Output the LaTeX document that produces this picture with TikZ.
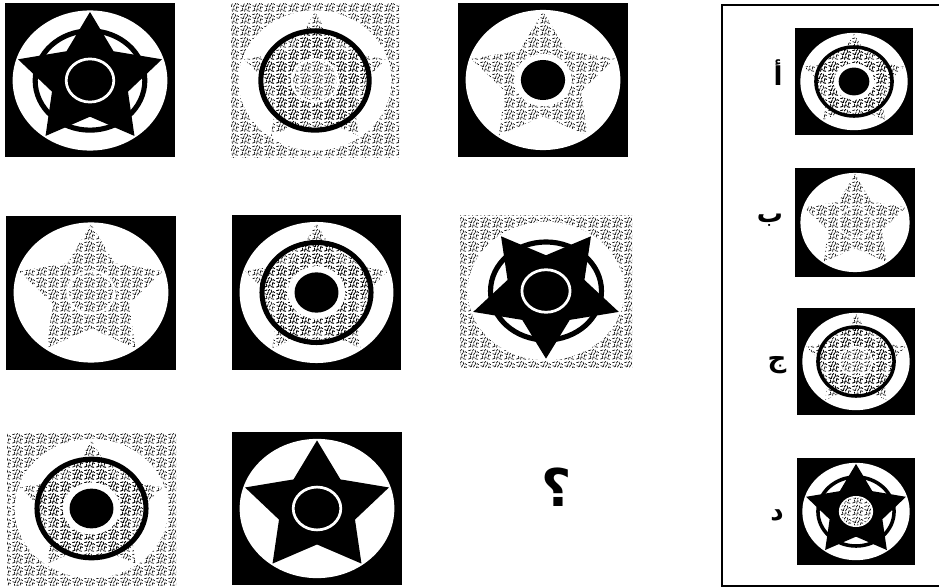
\documentclass[tikz,border=0pt]{standalone}
\usepackage{fontspec}
\newfontfamily\arabicfont[Script=Arabic]{DejaVu Sans}
\TeXXeTstate=1
\usetikzlibrary{patterns}

% scanned scribble texture
\pgfdeclarepatternformonly{scribble}{\pgfpointorigin}{\pgfqpoint{12pt}{12pt}}{\pgfqpoint{12pt}{12pt}}{%
  \pgfsetlinewidth{0.7pt}\pgfsetroundcap\pgfsetroundjoin
  \pgfpathmoveto{\pgfqpoint{0.6pt}{1.0pt}}\pgfpathlineto{\pgfqpoint{3.2pt}{1.9pt}}\pgfpathlineto{\pgfqpoint{2.5pt}{4.3pt}}
  \pgfpathmoveto{\pgfqpoint{5.0pt}{0.6pt}}\pgfpathlineto{\pgfqpoint{5.5pt}{3.4pt}}\pgfpathlineto{\pgfqpoint{7.0pt}{3.0pt}}
  \pgfpathmoveto{\pgfqpoint{7.6pt}{1.4pt}}\pgfpathlineto{\pgfqpoint{10.6pt}{0.8pt}}
  \pgfpathmoveto{\pgfqpoint{8.8pt}{3.0pt}}\pgfpathlineto{\pgfqpoint{9.4pt}{5.6pt}}\pgfpathlineto{\pgfqpoint{11.5pt}{5.0pt}}
  \pgfpathmoveto{\pgfqpoint{0.8pt}{6.8pt}}\pgfpathlineto{\pgfqpoint{3.6pt}{5.8pt}}\pgfpathlineto{\pgfqpoint{4.4pt}{8.4pt}}
  \pgfpathmoveto{\pgfqpoint{5.8pt}{5.2pt}}\pgfpathlineto{\pgfqpoint{7.2pt}{7.6pt}}
  \pgfpathmoveto{\pgfqpoint{8.6pt}{7.8pt}}\pgfpathlineto{\pgfqpoint{7.6pt}{10.8pt}}
  \pgfpathmoveto{\pgfqpoint{0.6pt}{10.0pt}}\pgfpathlineto{\pgfqpoint{3.2pt}{10.8pt}}
  \pgfpathmoveto{\pgfqpoint{4.6pt}{9.6pt}}\pgfpathlineto{\pgfqpoint{6.0pt}{11.4pt}}
  \pgfpathmoveto{\pgfqpoint{9.8pt}{9.0pt}}\pgfpathlineto{\pgfqpoint{11.6pt}{8.0pt}}
  \pgfusepath{stroke}}

\tikzset{
  inkfill/.style={fill=black},
  texfill/.style={pattern=scribble, pattern color=black},
  bare/.style={},
  band/.style={draw=black, line width=\rw},
  texband/.style={band, texfill},
  optlabel/.style={font=\arabicfont\bfseries\fontsize{26}{28}\selectfont, inner sep=0pt},
  qmark/.style={font=\arabicfont\bfseries\fontsize{52}{56}\selectfont, inner sep=0pt}
}

% centre pieces
\newcommand{\hubring}{%
  \fill[black] (0,0) circle (0.28);
  \draw[white, line width=\hw] (0,0) circle (0.28);}
\newcommand{\hubdisc}{%
  \fill[white] (0,0) circle (0.34);
  \fill[black] (0,0) circle (0.26);}
\newcommand{\hubtex}{%
  \fill[white] (0,0) circle (0.29);
  \path[texfill] (0,0) circle (0.26);}

% #1,#2 centre  #3,#4 half size  #5 ground  #6 star  #7 ring  #8 hub  #9 star turn
\newcommand{\badge}[9]{%
  \begin{scope}[shift={(#1,#2)}, xscale=#3, yscale=-#4]
    \pgfmathsetlengthmacro{\rw}{0.06*#3}
    \pgfmathsetlengthmacro{\hw}{0.032*#3}
    \path[#5] (-1,-1) rectangle (1,1);
    \fill[white] (0,0) circle (0.91);
    \path[#6] (#9:0.89) \foreach \k in {1,...,9} {-- ({#9+36*\k}:{0.89-0.42*mod(\k,2)})} -- cycle;
    \path[#7] (0,0) circle (0.645);
    #8
  \end{scope}}

\begin{document}
\begin{tikzpicture}[x=1pt, y=-1pt]
  \path[use as bounding box, fill=white] (0,0) rectangle (939,588);

  % matrix
  \badge{90}{80.5}{85}{77}{inkfill}{inkfill}{band}{\hubring}{90}
  \badge{315}{80.5}{84}{77}{texfill}{texfill}{texband}{\hubtex}{90}
  \badge{543}{80}{85}{77}{inkfill}{texfill}{bare}{\hubdisc}{90}
  \badge{91}{292.5}{85}{77}{inkfill}{texfill}{bare}{\hubtex}{90}
  \badge{316.5}{292.5}{84.5}{77.5}{inkfill}{texfill}{texband}{\hubdisc}{90}
  \badge{546}{291}{86}{76}{texfill}{inkfill}{band}{\hubring}{-90}
  \badge{91.5}{508.5}{84.5}{76.5}{texfill}{texfill}{texband}{\hubdisc}{90}
  \badge{317}{508.5}{85}{76.5}{inkfill}{inkfill}{bare}{\hubring}{90}
  \node[qmark] (q) at (557,487) {\beginR ؟\endR};

  % answers
  \draw[line width=2pt] (940,5) -- (722,5) -- (722,586) -- (940,586);
  \badge{854}{81.5}{59}{53.5}{inkfill}{texfill}{texband}{\hubdisc}{90}
  \badge{855}{222.5}{60}{54.5}{inkfill}{texfill}{bare}{\hubtex}{90}
  \badge{856}{361.5}{59}{53.5}{inkfill}{texfill}{texband}{\hubtex}{90}
  \badge{856}{511.5}{59}{53.5}{inkfill}{inkfill}{band}{\hubtex}{90}
  \node[optlabel] (la) at (778,73) {\beginR أ\endR};
  \node[optlabel] (lb) at (770,220) {\beginR ب\endR};
  \node[optlabel] (lc) at (777,365) {\beginR ج\endR};
  \node[optlabel] (ld) at (777,515) {\beginR د\endR};
\end{tikzpicture}
\end{document}
